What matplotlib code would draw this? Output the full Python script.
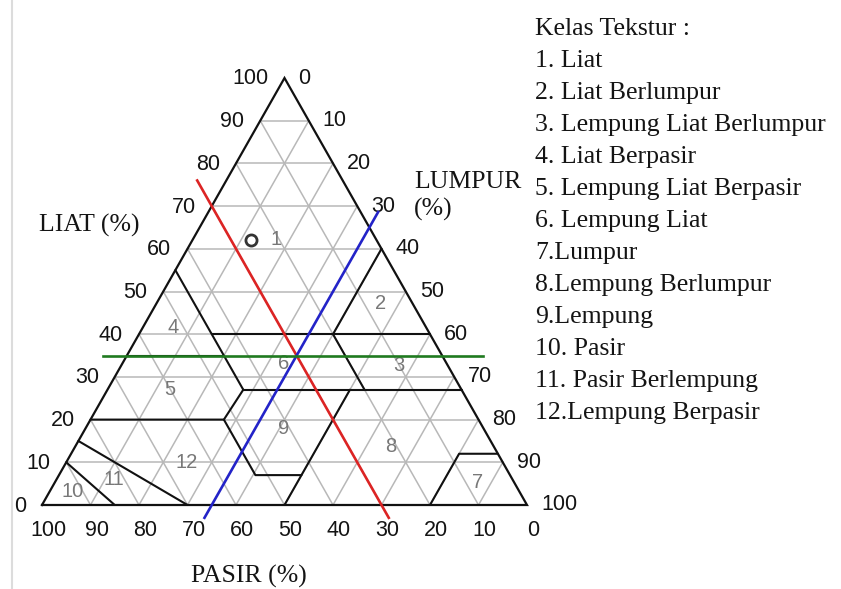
import numpy as np
import matplotlib
matplotlib.use("Agg")
import matplotlib.pyplot as plt
from matplotlib.lines import Line2D

# ---------------- data ----------------
grid_levels = [10, 20, 30, 40, 50, 60, 70, 80, 90]
liat_ticks = [0, 10, 20, 30, 40, 50, 60, 70, 80, 90, 100]      # clay, left side
lumpur_ticks = [0, 10, 20, 30, 40, 50, 60, 70, 80, 90, 100]    # silt, right side
pasir_ticks = [100, 90, 80, 70, 60, 50, 40, 30, 20, 10, 0]     # sand, bottom

# texture-class boundaries as (sand %, clay %) polylines
boundaries = [
    [(45, 55), (45, 27)],
    [(45, 40), (0, 40)],
    [(20, 40), (0, 60)],
    [(20, 40), (20, 27)],
    [(45, 27), (0, 27)],
    [(65, 35), (45, 35)],
    [(80, 20), (52.5, 20), (45, 27)],
    [(52.5, 20), (52.5, 7), (43, 7)],
    [(23, 27), (50, 0)],
    [(20, 0), (8, 12), (0, 12)],
    [(85, 0), (90, 10)],
    [(70, 0), (85, 15)],
]

class_ids = ["1", "2", "3", "4", "5", "6", "7", "8", "9", "10", "11", "12"]
class_sand = [20.5, 6.5, 10, 52, 60, 33.5, 7.3, 21, 41, 92, 82, 65]
class_clay = [62.5, 47.5, 33, 42, 27.5, 33.5, 5.6, 14, 18.3, 3.5, 6.3, 10.3]

class_names = [
    "1. Liat",
    "2. Liat Berlumpur",
    "3. Lempung Liat Berlumpur",
    "4. Liat Berpasir",
    "5. Lempung Liat Berpasir",
    "6. Lempung Liat",
    "7.Lumpur",
    "8.Lempung Berlumpur",
    "9.Lempung",
    "10. Pasir",
    "11. Pasir Berlempung",
    "12.Lempung Berpasir",
]

# sample point and reading lines
sample_sand, sample_clay = 26, 62
red_sand = 30
red_clay_span = (-3, 76)
blue_silt = 35
blue_clay_span = (-3, 68.6)
green_clay = 35
green_sand_span = (70, -8.4)

# ---------------- layout ----------------
W, H = 841, 589
X0, Y0 = 42, 505          # pixel position of the 100 % sand corner
BASE, TRI_H = 485, 427    # triangle base and height in pixels

fig = plt.figure(figsize=(W / 100, H / 100), dpi=100)
ax = fig.add_axes([0, 0, 1, 1])
ax.set_xlim(-X0 / BASE, (W - X0) / BASE)
ax.set_ylim((Y0 - H) / TRI_H, Y0 / TRI_H)
ax.axis("off")


def tern(sand, clay):
    sand = np.asarray(sand, dtype=float)
    clay = np.asarray(clay, dtype=float)
    silt = 100 - sand - clay
    return (silt + clay / 2) / 100, clay / 100


def fx(px):
    return px / W


def fy(py):
    return 1 - py / H


GRID = "#b8b8b8"
TICK_FONT = "Liberation Sans"
SERIF = "Liberation Serif"
INK = "#141414"

# grid lines in the three directions
for v in grid_levels:
    x, y = tern([100 - v, 0], [v, v])          # constant clay
    ax.plot(x, y, color=GRID, lw=1.1, zorder=1)
    x, y = tern([v, v], [100 - v, 0])          # constant sand
    ax.plot(x, y, color=GRID, lw=1.1, zorder=1)
    x, y = tern([100 - v, 0], [0, 100 - v])    # constant silt
    ax.plot(x, y, color=GRID, lw=1.1, zorder=1)

# class numbers
for lab, s, c in zip(class_ids, class_sand, class_clay):
    x, y = tern(s, c)
    ax.annotate(lab, xy=(x, y), xytext=(0, -7), textcoords="offset pixels",
                ha="center", va="baseline", fontsize=14.5, color="#787878",
                family=TICK_FONT, zorder=2)

# class boundaries
for line in boundaries:
    s, c = zip(*line)
    x, y = tern(s, c)
    ax.plot(x, y, color="#111111", lw=1.5, zorder=3, solid_capstyle="round")

# triangle outline
x, y = tern([100, 0, 0, 100], [0, 0, 100, 0])
ax.plot(x, y, color="#111111", lw=1.6, zorder=4, solid_joinstyle="miter")

# reading lines
x, y = tern([red_sand, red_sand], list(red_clay_span))
ax.plot(x, y, color="#dc2424", lw=1.9, zorder=5)
bc = np.array(blue_clay_span)
x, y = tern(100 - blue_silt - bc, bc)
ax.plot(x, y, color="#2323c8", lw=1.9, zorder=5)
x, y = tern(list(green_sand_span), [green_clay, green_clay])
ax.plot(x, y, color="#1f7a1f", lw=1.9, zorder=5)

# sample point
x, y = tern(sample_sand, sample_clay)
ax.plot([x], [y], marker="o", ms=8, mfc="none", mec="#333333", mew=2.0, zorder=6)

# tick labels
for v in liat_ticks:
    x, y = tern(100 - v, v)
    ax.annotate(str(v), xy=(x, y), xytext=(-16, -6.5), textcoords="offset pixels",
                ha="right", va="baseline", fontsize=15.5, color=INK,
                family=TICK_FONT)
for v in lumpur_ticks:
    x, y = tern(0, 100 - v)
    ax.annotate(str(v), xy=(x, y), xytext=(14, -5.5), textcoords="offset pixels",
                ha="left", va="baseline", fontsize=15.5, color=INK,
                family=TICK_FONT)
for v in pasir_ticks:
    x, y = tern(v, 0)
    ax.annotate(str(v), xy=(x, y), xytext=(6, -31.5), textcoords="offset pixels",
                ha="center", va="baseline", fontsize=15.5, color=INK,
                family=TICK_FONT)

# axis titles
title_kw = dict(fontsize=18.5, family=SERIF, color=INK, ha="left", va="baseline")
fig.text(fx(39), fy(232), "LIAT (%)", **title_kw)
fig.text(fx(414), fy(188), "LUMPUR", **title_kw)
fig.text(fx(414), fy(216), "(%)", **title_kw)
fig.text(fx(191), fy(583), "PASIR (%)", **title_kw)

# class legend
legend_kw = dict(fontsize=18.5, family=SERIF, color=INK, ha="left", va="baseline")
fig.text(fx(535), fy(35), "Kelas Tekstur :", **legend_kw)
for i, name in enumerate(class_names):
    fig.text(fx(535), fy(67 + 32 * i), name, **legend_kw)

# page edge
fig.add_artist(Line2D([fx(12), fx(12)], [0, 1], transform=fig.transFigure,
                      color="#dcdcdc", lw=1.5))

fig.savefig("out.png", dpi=100)
